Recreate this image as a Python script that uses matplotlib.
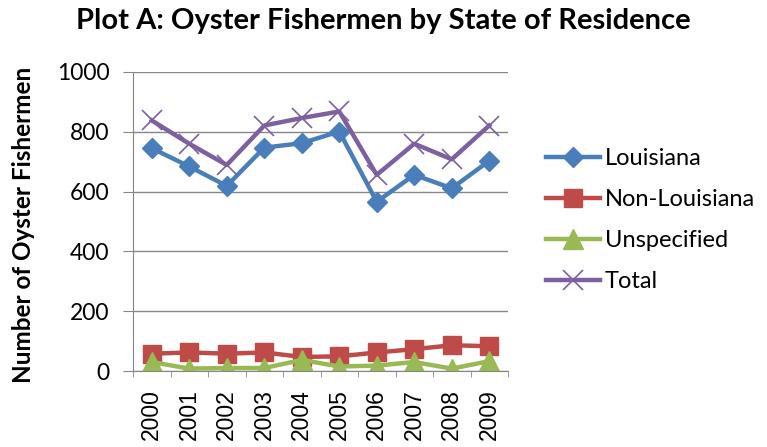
import numpy as np
import matplotlib
matplotlib.use("Agg")
import matplotlib.pyplot as plt
from matplotlib.ticker import FixedLocator

plt.rcParams['font.family'] = ['Lato', 'DejaVu Sans']

years = ["2000", "2001", "2002", "2003", "2004", "2005", "2006", "2007", "2008", "2009"]
louisiana = [745, 684, 619, 747, 762, 801, 566, 656, 611, 703]
non_louisiana = [58, 62, 58, 62, 47, 49, 62, 73, 86, 83]
unspecified = [30, 8, 10, 10, 37, 15, 18, 30, 8, 33]
total = [838, 760, 689, 821, 846, 868, 656, 760, 708, 821]


def main():
    W, H = 767, 447
    fig = plt.figure(figsize=(W / 100, H / 100), dpi=100)
    # plot area in pixels: x 133..508, y 72..371
    ax = fig.add_axes([133 / W, 1 - 371 / H, 375 / W, 299 / H])

    x = np.arange(len(years))
    ax.plot(x, louisiana, color="#4A7EBB", lw=3.2, marker="D", ms=10, label="Louisiana")
    ax.plot(x, non_louisiana, color="#BE4B48", lw=3.2, marker="s", ms=13, label="Non-Louisiana")
    ax.plot(x, unspecified, color="#98B954", lw=3.2, marker="^", ms=14, label="Unspecified")
    ax.plot(x, total, color="#7D60A0", lw=3.2, marker="x", ms=14, mew=1.2, label="Total")

    ax.set_xlim(-0.5, len(years) - 0.5)
    ax.set_ylim(0, 1000)
    ax.set_yticks(np.arange(0, 1001, 200))
    ax.set_xticks(x)
    ax.set_xticklabels(years, rotation=90, fontsize=16.5, family=["Liberation Sans", "DejaVu Sans"])
    ax.tick_params(axis="x", which="major", length=0, pad=13)
    ax.xaxis.set_minor_locator(FixedLocator(np.arange(-0.5, len(years), 1)))
    ax.tick_params(axis="x", which="minor", length=4.5, color="#868686", direction="out")
    ax.tick_params(axis="y", labelsize=16.5, length=7, color="#868686", pad=10)

    ax.grid(axis="y", color="#868686", lw=1)
    ax.set_axisbelow(True)
    for s in ["top", "right"]:
        ax.spines[s].set_visible(False)
    for s in ["left", "bottom"]:
        ax.spines[s].set_color("#868686")

    fig.text(24 / W, 1 - 225 / H, "Number of Oyster Fishermen", rotation=90,
             ha="center", va="center", fontsize=17.5, fontweight="bold")
    fig.text(0.5, 1 - 21 / H, "Plot A: Oyster Fishermen by State of Residence",
             ha="center", va="center", fontsize=21, fontweight="bold")

    ax.legend(loc="upper left", bbox_to_anchor=(546 / W, 1 - 148 / H),
              bbox_transform=fig.transFigure, frameon=False,
              fontsize=17, handlelength=2.3, labelspacing=0.85, handletextpad=0.2,
              borderaxespad=0, borderpad=0)

    fig.savefig("out.png", dpi=100)


if __name__ == '__main__':
    main()
